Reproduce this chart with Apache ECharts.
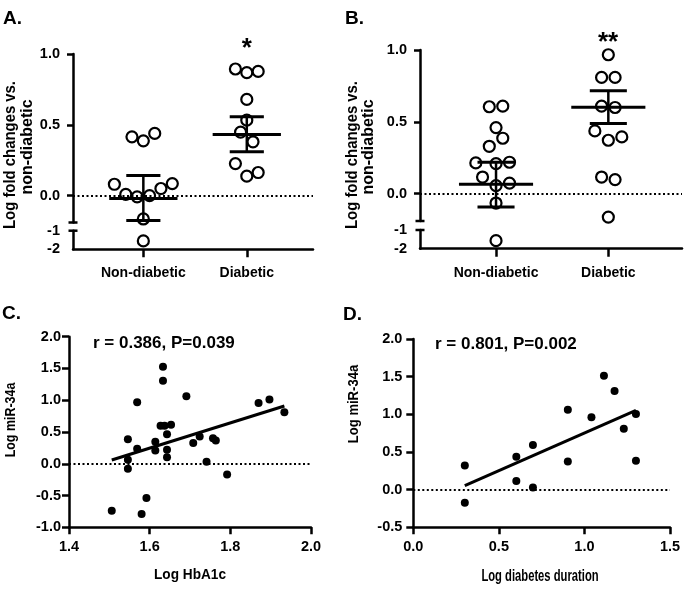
<!DOCTYPE html>
<html>
<head>
<meta charset="utf-8">
<script src="https://cdn.jsdelivr.net/npm/echarts@6/dist/echarts.min.js"></script>
<style>
  html, body { margin: 0; padding: 0; background: #fff; }
  #main { width: 685px; height: 589px; }
</style>
</head>
<body>
<div id="main"></div>
<script>
// 分组名称
var groups = ['Non-diabetic', 'Diabetic'];

// A. 各点数值 + 水平抖动 (相对组中心)
var aNonDiabetic = [0.415, 0.387, 0.439, 0.080, 0.009, -0.009, 0.000, 0.050, 0.085, -0.165, -1.55];
var aNonDiabeticJitter = [-0.11, 0, 0.11, -0.28, -0.17, -0.06, 0.06, 0.17, 0.28, 0, 0];
var aDiabetic = [0.894, 0.868, 0.877, 0.679, 0.533, 0.448, 0.380, 0.226, 0.137, 0.163];
var aDiabeticJitter = [-0.11, 0, 0.11, 0, 0, -0.06, 0.06, -0.11, 0, 0.11];
var aMean = [-0.021, 0.432];
var aSemLow = [-0.175, 0.309];
var aSemHigh = [0.142, 0.557];

// B.
var bNonDiabetic = [0.605, 0.609, 0.460, 0.386, 0.330, 0.214, 0.209, 0.219, 0.116, 0.056, 0.074, -0.065, -1.57];
var bNonDiabeticJitter = [-0.06, 0.06, 0, 0.06, -0.06, -0.18, 0, 0.12, -0.12, 0, 0.12, 0, 0];
var bDiabetic = [0.967, 0.809, 0.809, 0.609, 0.600, 0.437, 0.395, 0.372, 0.116, 0.098, -0.163];
var bDiabeticJitter = [0, -0.06, 0.06, -0.06, 0.06, -0.12, 0.12, 0, -0.06, 0.06, 0];
var bMean = [0.065, 0.602];
var bSemLow = [-0.093, 0.488];
var bSemHigh = [0.219, 0.716];

// 断轴: 上段最小值
var breakLow = -0.19;

// C. HbA1c vs miR-34a
var cHbA1c = [1.633, 1.633, 1.569, 1.691, 1.627, 1.637, 1.653, 1.643, 1.546, 1.569, 1.614, 1.614, 1.643, 1.643,
  1.546, 1.546, 1.708, 1.724, 1.757, 1.764, 1.741, 1.792, 1.592, 1.506, 1.580, 1.870, 1.897, 1.934];
var cMir34a = [1.526, 1.305, 0.968, 1.063, 0.600, 0.600, 0.616, 0.463, 0.384, 0.237, 0.348, 0.210, 0.221, 0.104,
  0.063, -0.079, 0.325, 0.431, 0.400, 0.368, 0.032, -0.169, -0.537, -0.738, -0.790, 0.957, 1.011, 0.810];
var cFitX = [1.506, 1.934];
var cFitY = [0.06, 0.91];

// D. duration vs miR-34a
var dDuration = [0.301, 0.301, 0.602, 0.602, 0.699, 0.699, 0.903, 0.903, 1.041, 1.114, 1.176, 1.230, 1.301, 1.301];
var dMir34a = [0.319, -0.173, 0.438, 0.115, 0.593, 0.027, 1.062, 0.372, 0.960, 1.513, 1.310, 0.810, 1.004, 0.385];
var dFitX = [0.301, 1.301];
var dFitY = [0.053, 1.053];

var FONT = "'Liberation Sans', Arial, sans-serif";

var lineStyle = { color: '#000', width: 2.5 };

function pairs(xs, ys) {
  return xs.map(function (x, i) { return [x, ys[i]]; });
}
function jitterPoints(values, jitter, center, keep) {
  return values.map(function (v, i) { return [center + jitter[i], v]; })
    .filter(function (p) { return keep(p[1]); });
}
function upper(v) { return v >= breakLow; }
function lower(v) { return v < breakLow; }

// 误差线: 均值横线 + SEM
function renderErrorBar(params, api) {
  var x = api.value(0);
  var pm = api.coord([x, api.value(1)]);
  var pl = api.coord([x, api.value(2)]);
  var ph = api.coord([x, api.value(3)]);
  var meanHalf = api.size([0.33, 0])[0];
  var capHalf = api.size([0.165, 0])[0];
  var st = { stroke: '#000', lineWidth: 3 };
  return {
    type: 'group',
    children: [
      { type: 'line', shape: { x1: pm[0] - meanHalf, y1: pm[1], x2: pm[0] + meanHalf, y2: pm[1] }, style: st },
      { type: 'line', shape: { x1: pl[0], y1: pl[1], x2: ph[0], y2: ph[1] }, style: { stroke: '#000', lineWidth: 2.5 } },
      { type: 'line', shape: { x1: ph[0] - capHalf, y1: ph[1], x2: ph[0] + capHalf, y2: ph[1] }, style: st },
      { type: 'line', shape: { x1: pl[0] - capHalf, y1: pl[1], x2: pl[0] + capHalf, y2: pl[1] }, style: st }
    ]
  };
}
// 断轴端帽
function renderCap(params, api) {
  var p = api.coord([api.value(0), api.value(1)]);
  return {
    type: 'line',
    shape: { x1: p[0] - 4.5, y1: p[1], x2: p[0] + 4.5, y2: p[1] },
    style: { stroke: '#000', lineWidth: 2.5 }
  };
}

function labelStyle(extra) {
  var s = { color: '#000', fontFamily: FONT, fontWeight: 'bold', fontSize: 14.5 };
  for (var k in extra) s[k] = extra[k];
  return s;
}

function hiddenX(grid, min, max) {
  return { gridIndex: grid, type: 'value', min: min, max: max, show: false, splitLine: { show: false } };
}
function groupX(grid, min, max) {
  return {
    gridIndex: grid, type: 'value', min: min, max: max,
    axisLine: { show: true, onZero: false, lineStyle: lineStyle },
    axisTick: { show: true, length: 8, lineStyle: lineStyle, customValues: [1, 2] },
    axisLabel: labelStyle({
      customValues: [1, 2], margin: 17, fontSize: 14,
      formatter: function (v) { return groups[Math.round(v) - 1]; }
    }),
    splitLine: { show: false }
  };
}
function upperY(grid, margin) {
  return {
    gridIndex: grid, type: 'value', min: breakLow, max: 1,
    axisLine: { show: true, onZero: false, lineStyle: lineStyle },
    axisTick: { show: true, length: 6, lineStyle: lineStyle, customValues: [0, 0.5, 1] },
    axisLabel: labelStyle({
      customValues: [0, 0.5, 1], margin: margin,
      formatter: function (v) { return v.toFixed(1); }
    }),
    splitLine: { show: false }
  };
}
function lowerY(grid, margin) {
  return {
    gridIndex: grid, type: 'value', min: -2, max: -1,
    axisLine: { show: true, onZero: false, lineStyle: lineStyle },
    axisTick: { show: false },
    axisLabel: labelStyle({
      customValues: [-2, -1], margin: margin,
      formatter: function (v) { return String(v); }
    }),
    splitLine: { show: false }
  };
}
function numAxis(grid, min, max, interval, margin) {
  return {
    gridIndex: grid, type: 'value', min: min, max: max, interval: interval,
    axisLine: { show: true, onZero: false, lineStyle: lineStyle },
    axisTick: { show: true, length: 7, lineStyle: lineStyle },
    axisLabel: labelStyle({
      margin: margin,
      formatter: function (v) { return v.toFixed(1); }
    }),
    splitLine: { show: false }
  };
}

var openDot = {
  type: 'scatter', symbol: 'circle', symbolSize: 11, z: 3,
  itemStyle: { color: '#fff', borderColor: '#000', borderWidth: 2.2, opacity: 1 }
};
function openScatter(x, y, data) {
  return Object.assign({}, openDot, { xAxisIndex: x, yAxisIndex: y, data: data });
}
function zeroLine() {
  return {
    silent: true, symbol: 'none', label: { show: false },
    lineStyle: { color: '#000', width: 2, type: [2, 2.5] },
    data: [{ yAxis: 0 }]
  };
}

var series = [
  // A
  Object.assign(openScatter(0, 0, jitterPoints(aNonDiabetic, aNonDiabeticJitter, 1, upper)), { markLine: zeroLine() }),
  openScatter(0, 0, jitterPoints(aDiabetic, aDiabeticJitter, 2, upper)),
  openScatter(1, 1, jitterPoints(aNonDiabetic, aNonDiabeticJitter, 1, lower)),
  openScatter(1, 1, jitterPoints(aDiabetic, aDiabeticJitter, 2, lower)),
  {
    type: 'custom', xAxisIndex: 0, yAxisIndex: 0, z: 5, clip: false,
    renderItem: renderErrorBar,
    data: [1, 2].map(function (x, i) { return [x, aMean[i], aSemLow[i], aSemHigh[i]]; })
  },
  { type: 'custom', xAxisIndex: 0, yAxisIndex: 0, clip: false, renderItem: renderCap, data: [[0.32, breakLow]] },
  { type: 'custom', xAxisIndex: 1, yAxisIndex: 1, clip: false, renderItem: renderCap, data: [[0.32, -1]] },
  // B
  Object.assign(openScatter(2, 2, jitterPoints(bNonDiabetic, bNonDiabeticJitter, 1, upper)), { markLine: zeroLine() }),
  openScatter(2, 2, jitterPoints(bDiabetic, bDiabeticJitter, 2, upper)),
  openScatter(3, 3, jitterPoints(bNonDiabetic, bNonDiabeticJitter, 1, lower)),
  openScatter(3, 3, jitterPoints(bDiabetic, bDiabeticJitter, 2, lower)),
  {
    type: 'custom', xAxisIndex: 2, yAxisIndex: 2, z: 5, clip: false,
    renderItem: renderErrorBar,
    data: [1, 2].map(function (x, i) { return [x, bMean[i], bSemLow[i], bSemHigh[i]]; })
  },
  { type: 'custom', xAxisIndex: 2, yAxisIndex: 2, clip: false, renderItem: renderCap, data: [[0.323, breakLow]] },
  { type: 'custom', xAxisIndex: 3, yAxisIndex: 3, clip: false, renderItem: renderCap, data: [[0.323, -1]] },
  // C
  {
    type: 'scatter', xAxisIndex: 4, yAxisIndex: 4, symbolSize: 8,
    itemStyle: { color: '#000', opacity: 1 },
    data: pairs(cHbA1c, cMir34a),
    markLine: zeroLine()
  },
  {
    type: 'line', xAxisIndex: 4, yAxisIndex: 4, symbol: 'none', z: 4,
    lineStyle: { color: '#000', width: 3 },
    data: pairs(cFitX, cFitY)
  },
  // D
  {
    type: 'scatter', xAxisIndex: 5, yAxisIndex: 5, symbolSize: 8,
    itemStyle: { color: '#000', opacity: 1 },
    data: pairs(dDuration, dMir34a),
    markLine: zeroLine()
  },
  {
    type: 'line', xAxisIndex: 5, yAxisIndex: 5, symbol: 'none', z: 4,
    lineStyle: { color: '#000', width: 3 },
    data: pairs(dFitX, dFitY)
  }
];

function txt(text, x, y, size, opts) {
  opts = opts || {};
  return {
    type: 'text', x: x, y: y, rotation: opts.rotation || 0, z: 10,
    scaleX: opts.scaleX || 1,
    style: {
      text: text, fill: '#000',
      font: 'bold ' + size + 'px ' + FONT,
      align: opts.align || 'center', verticalAlign: 'middle'
    }
  };
}
var R = Math.PI / 2;

var option = {
  backgroundColor: '#fff',
  animation: false,
  grid: [
    { left: 73, top: 54, width: 240, height: 168.5, outerBoundsMode: 'none' },
    { left: 73, top: 230.7, width: 240, height: 18.6, outerBoundsMode: 'none' },
    { left: 420, top: 50, width: 262, height: 171, outerBoundsMode: 'none' },
    { left: 420, top: 230, width: 262, height: 18.7, outerBoundsMode: 'none' },
    { left: 69, top: 336.7, width: 242, height: 190.6, outerBoundsMode: 'none' },
    { left: 413.3, top: 339, width: 256.7, height: 188.3, outerBoundsMode: 'none' }
  ],
  xAxis: [
    hiddenX(0, 0.32, 2.64),
    groupX(1, 0.32, 2.64),
    hiddenX(2, 0.323, 2.656),
    groupX(3, 0.323, 2.656),
    numAxis(4, 1.4, 2.0, 0.2, 12),
    numAxis(5, 0, 1.5, 0.5, 12)
  ],
  yAxis: [
    upperY(0, 13),
    lowerY(1, 13),
    upperY(2, 13),
    lowerY(3, 13),
    numAxis(4, -1, 2, 0.5, 8),
    numAxis(5, -0.5, 2, 0.5, 11)
  ],
  series: series,
  graphic: [
    txt('A.', 3, 18.5, 19, { align: 'left' }),
    txt('B.', 345, 18.5, 19, { align: 'left' }),
    txt('C.', 2, 314, 19, { align: 'left' }),
    txt('D.', 343, 315, 19, { align: 'left' }),
    txt('*', 246.7, 49, 26),
    txt('**', 608, 43, 26),
    txt('Log fold changes vs.', 11, 155, 16, { rotation: R, scaleX: 0.93 }),
    txt('non-diabetic', 27.5, 147, 16, { rotation: R }),
    txt('Log fold changes vs.', 352.5, 155, 16, { rotation: R, scaleX: 0.93 }),
    txt('non-diabetic', 368.5, 147, 16, { rotation: R }),
    txt('r = 0.386, P=0.039', 93, 343, 17, { align: 'left' }),
    txt('r = 0.801, P=0.002', 435, 344, 17, { align: 'left' }),
    txt('Log miR-34a', 11, 420, 15, { rotation: R, scaleX: 0.83 }),
    txt('Log miR-34a', 354, 404, 15, { rotation: R, scaleX: 0.87 }),
    txt('Log HbA1c', 190, 575, 15.5, { scaleX: 0.88 }),
    txt('Log diabetes duration', 540, 576, 16.5, { scaleX: 0.68 })
  ]
};

var myChart = echarts.init(document.getElementById('main'));
myChart.setOption(option, true);
</script>
</body>
</html>
